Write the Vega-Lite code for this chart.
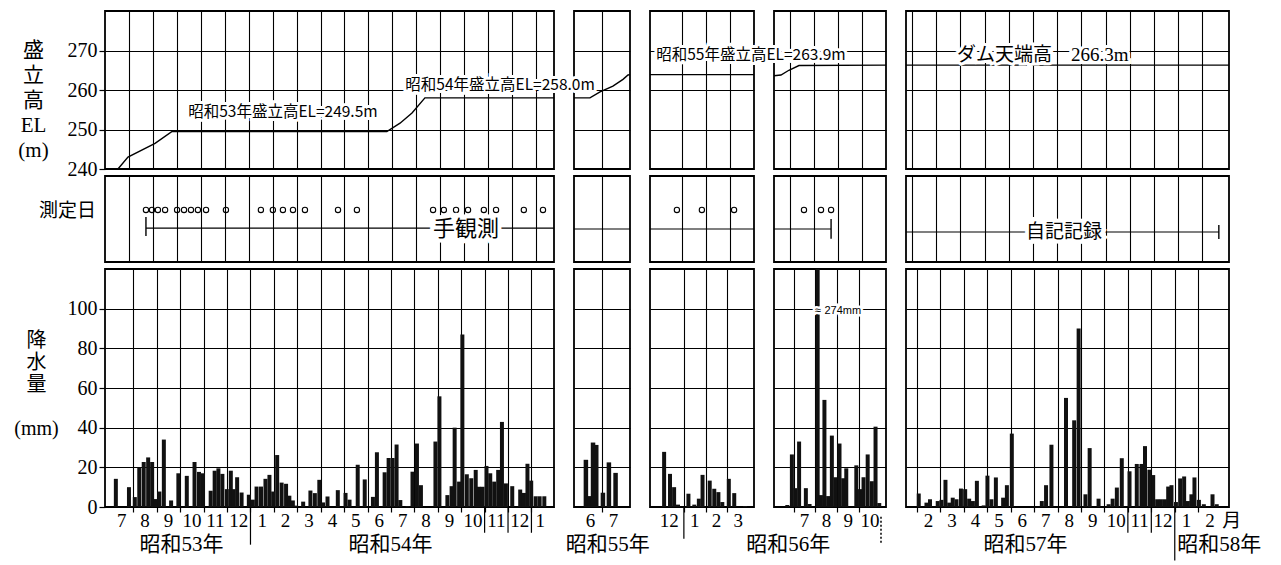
{
"$schema": "https://vega.github.io/schema/vega-lite/v6.json",
"background": "white",
"padding": {"left": 12, "top": 10, "right": 5, "bottom": 5},
"bounds": "flush",
"columns": 5,
"spacing": {"row": 7, "column": 20},
"config": {
  "view": {"stroke": "#000", "strokeWidth": 1.8},
  "axis": {"grid": true, "gridColor": "#000", "gridOpacity": 1, "gridWidth": 1.1, "domain": false, "ticks": false, "labels": false, "tickColor": "#000", "tickWidth": 1.2, "tickOpacity": 1, "labelFont": "Liberation Serif", "labelFontSize": 20, "labelColor": "#000", "labelOverlap": false, "labelBound": false, "labelFlush": false, "titleFont": "Liberation Serif, Noto Sans CJK JP", "titleFontSize": 20, "titleFontWeight": "normal", "titleColor": "#000", "minExtent": 0},
  "text": {"color": "#000"},
  "line": {"color": "#000"},
  "rule": {"color": "#000"}
},
"datasets": {
  "el": [
    {"p":1,"m":0,"y":240},{"p":1,"m":0.54,"y":240},{"p":1,"m":0.96,"y":243},{"p":1,"m":2.09,"y":246.5},{"p":1,"m":2.8,"y":249.5},{"p":1,"m":11.77,"y":249.5},{"p":1,"m":12.32,"y":251.6},{"p":1,"m":12.82,"y":254.2},{"p":1,"m":13.36,"y":258},{"p":1,"m":18.75,"y":258},
    {"p":2,"m":23,"y":258},{"p":2,"m":23.57,"y":258},{"p":2,"m":23.93,"y":259.5},{"p":2,"m":24.39,"y":261},{"p":2,"m":24.75,"y":262.7},{"p":2,"m":24.93,"y":263.8},{"p":2,"m":25,"y":263.9},
    {"p":3,"m":28.67,"y":263.9},{"p":3,"m":33,"y":263.9},
    {"p":4,"m":35.33,"y":263.6},{"p":4,"m":35.62,"y":263.8},{"p":4,"m":35.95,"y":265},{"p":4,"m":36.37,"y":266.2},{"p":4,"m":40,"y":266.3},
    {"p":5,"m":42.75,"y":266.3},{"p":5,"m":56.1,"y":266.3}
  ],
  "notes": [
    {"p":1,"m":7.43,"y":254.4,"t":"昭和53年盛立高EL=249.5m"},
    {"p":2,"m":20.36,"y":261.3,"t":"昭和54年盛立高EL=258.0m"},
    {"p":4,"m":34.37,"y":268.9,"t":"昭和55年盛立高EL=263.9m"},
    {"p":5,"m":48.4,"y":268.9,"t":"ダム天端高　266.3m"}
  ],
  "obs": [
    {"p":1,"m":1.71},{"p":1,"m":1.96},{"p":1,"m":2.21},{"p":1,"m":2.51},{"p":1,"m":3.01},{"p":1,"m":3.3},{"p":1,"m":3.59},{"p":1,"m":3.88},{"p":1,"m":4.22},{"p":1,"m":5.05},
    {"p":1,"m":6.51},{"p":1,"m":7.01},{"p":1,"m":7.43},{"p":1,"m":7.85},{"p":1,"m":8.35},{"p":1,"m":9.73},{"p":1,"m":10.52},
    {"p":1,"m":13.7},{"p":1,"m":14.15},{"p":1,"m":14.66},{"p":1,"m":15.16},{"p":1,"m":15.82},{"p":1,"m":16.33},{"p":1,"m":17.49},{"p":1,"m":18.29},
    {"p":3,"m":29.79},{"p":3,"m":30.83},{"p":3,"m":32.17},
    {"p":4,"m":36.58},{"p":4,"m":37.29},{"p":4,"m":37.71}
  ],
  "hl": [
    {"p":1,"m":1.71,"m2":18.75,"y":3.95},{"p":2,"m":23,"m2":25,"y":3.84},{"p":3,"m":28.67,"m2":33,"y":3.84},{"p":4,"m":35.33,"m2":37.71,"y":3.84},{"p":5,"m":42.75,"m2":55.68,"y":3.49}
  ],
  "vt": [
    {"p":1,"m":1.71,"y":3.02,"y2":5.23},{"p":4,"m":37.71,"y":2.7,"y2":5.0},{"p":5,"m":55.68,"y":2.67,"y2":4.3}
  ],
  "mtext": [
    {"p":1,"m":15.07,"y":3.84,"t":"手観測"},{"p":5,"m":49.28,"y":3.49,"t":"自記記録"}
  ],
  "rain": [
    {"p":1,"m":0.25,"y":14.2},{"p":1,"m":0.81,"y":10},{"p":1,"m":1.06,"y":5},{"p":1,"m":1.25,"y":20},{"p":1,"m":1.44,"y":22.7},{"p":1,"m":1.63,"y":25},{"p":1,"m":1.8,"y":22.7},{"p":1,"m":1.96,"y":4},
    {"p":1,"m":2.11,"y":7.8},{"p":1,"m":2.3,"y":34},{"p":1,"m":2.61,"y":3.3},{"p":1,"m":2.92,"y":17},{"p":1,"m":3.28,"y":15.7},{"p":1,"m":3.61,"y":22.7},{"p":1,"m":3.8,"y":17.7},{"p":1,"m":3.97,"y":17},
    {"p":1,"m":4.3,"y":8.2},{"p":1,"m":4.47,"y":18.3},{"p":1,"m":4.63,"y":19.5},{"p":1,"m":4.8,"y":16.7},{"p":1,"m":4.99,"y":9},{"p":1,"m":5.16,"y":18.3},{"p":1,"m":5.28,"y":9},{"p":1,"m":5.43,"y":15},{"p":1,"m":5.62,"y":7.3},
    {"p":1,"m":5.93,"y":6.2},{"p":1,"m":6.1,"y":3.7},{"p":1,"m":6.26,"y":10.3},{"p":1,"m":6.45,"y":10.3},{"p":1,"m":6.64,"y":14.2},{"p":1,"m":6.81,"y":16.2},{"p":1,"m":6.97,"y":7.8},{"p":1,"m":7.14,"y":26.2},
    {"p":1,"m":7.33,"y":12.3},{"p":1,"m":7.52,"y":11.7},{"p":1,"m":7.66,"y":5.7},{"p":1,"m":7.81,"y":3.3},{"p":1,"m":7.95,"y":0.7},{"p":1,"m":8.25,"y":2.7},{"p":1,"m":8.56,"y":8.3},{"p":1,"m":8.75,"y":7},
    {"p":1,"m":8.94,"y":13.7},{"p":1,"m":9.1,"y":2.3},{"p":1,"m":9.29,"y":5.3},{"p":1,"m":9.73,"y":8.5},{"p":1,"m":10.06,"y":7.1},{"p":1,"m":10.23,"y":3.7},{"p":1,"m":10.58,"y":21.3},{"p":1,"m":10.88,"y":13.9},
    {"p":1,"m":11.23,"y":5.1},{"p":1,"m":11.4,"y":27.6},{"p":1,"m":11.73,"y":17.5},{"p":1,"m":11.9,"y":24.7},{"p":1,"m":12.07,"y":24.7},{"p":1,"m":12.24,"y":31.5},{"p":1,"m":12.4,"y":3.5},
    {"p":1,"m":12.71,"y":0.5},{"p":1,"m":12.92,"y":17.8},{"p":1,"m":13.11,"y":32},{"p":1,"m":13.28,"y":11},{"p":1,"m":13.9,"y":33},{"p":1,"m":14.07,"y":55.8},{"p":1,"m":14.41,"y":6},{"p":1,"m":14.59,"y":10.5},
    {"p":1,"m":14.72,"y":40},{"p":1,"m":14.91,"y":12.8},{"p":1,"m":15.05,"y":87},{"p":1,"m":15.24,"y":16.5},{"p":1,"m":15.43,"y":14.5},{"p":1,"m":15.62,"y":18.7},{"p":1,"m":15.76,"y":10.2},{"p":1,"m":15.91,"y":10.2},
    {"p":1,"m":16.08,"y":20.7},{"p":1,"m":16.24,"y":17},{"p":1,"m":16.41,"y":12.8},{"p":1,"m":16.58,"y":18.7},{"p":1,"m":16.74,"y":42.9},{"p":1,"m":16.91,"y":11.9},{"p":1,"m":17.18,"y":10.5},{"p":1,"m":17.52,"y":8.8},
    {"p":1,"m":17.68,"y":7.1},{"p":1,"m":17.83,"y":21.8},{"p":1,"m":17.99,"y":13.3},{"p":1,"m":18.18,"y":5.4},{"p":1,"m":18.35,"y":5.4},{"p":1,"m":18.55,"y":5.4},
    {"p":2,"m":23.3,"y":23.8},{"p":2,"m":23.46,"y":5.5},{"p":2,"m":23.61,"y":32.5},{"p":2,"m":23.75,"y":31.3},{"p":2,"m":24.04,"y":7.2},{"p":2,"m":24.3,"y":22.5},{"p":2,"m":24.59,"y":17.2},
    {"p":3,"m":29.09,"y":27.8},{"p":3,"m":29.36,"y":16.7},{"p":3,"m":29.55,"y":10},{"p":3,"m":29.73,"y":1.2},{"p":3,"m":30.21,"y":6.7},{"p":3,"m":30.48,"y":1.2},{"p":3,"m":30.69,"y":4.2},{"p":3,"m":30.86,"y":16.2},
    {"p":3,"m":31.19,"y":13.3},{"p":3,"m":31.4,"y":9.2},{"p":3,"m":31.59,"y":7.5},{"p":3,"m":31.77,"y":2.5},{"p":3,"m":32.07,"y":14.2},{"p":3,"m":32.32,"y":7},{"p":3,"m":32.82,"y":0.5},
    {"p":4,"m":35.71,"y":1},{"p":4,"m":35.92,"y":26.5},{"p":4,"m":36.08,"y":9.5},{"p":4,"m":36.25,"y":33},{"p":4,"m":36.56,"y":9.5},{"p":4,"m":36.73,"y":1.5},{"p":4,"m":37.1,"y":274},{"p":4,"m":37.25,"y":6},
    {"p":4,"m":37.41,"y":54},{"p":4,"m":37.58,"y":5.5},{"p":4,"m":37.75,"y":36},{"p":4,"m":37.91,"y":15},{"p":4,"m":38.1,"y":32},{"p":4,"m":38.27,"y":14.5},{"p":4,"m":38.41,"y":19.5},{"p":4,"m":38.87,"y":21},
    {"p":4,"m":39.04,"y":9},{"p":4,"m":39.2,"y":15},{"p":4,"m":39.39,"y":26.5},{"p":4,"m":39.58,"y":13},{"p":4,"m":39.75,"y":40.5},{"p":4,"m":39.92,"y":2},
    {"p":5,"m":43.08,"y":6.8},{"p":5,"m":43.41,"y":2.2},{"p":5,"m":43.56,"y":3.9},{"p":5,"m":43.89,"y":3},{"p":5,"m":44.05,"y":3.6},{"p":5,"m":44.22,"y":13.7},{"p":5,"m":44.38,"y":2.2},{"p":5,"m":44.53,"y":4.7},
    {"p":5,"m":44.69,"y":3.9},{"p":5,"m":44.88,"y":9.3},{"p":5,"m":45.06,"y":9},{"p":5,"m":45.23,"y":4.2},{"p":5,"m":45.39,"y":3},{"p":5,"m":45.56,"y":13.2},{"p":5,"m":45.85,"y":0.8},{"p":5,"m":46.01,"y":15.8},
    {"p":5,"m":46.18,"y":3.9},{"p":5,"m":46.37,"y":14.9},{"p":5,"m":46.68,"y":4.7},{"p":5,"m":46.84,"y":11},{"p":5,"m":47.05,"y":37},{"p":5,"m":48.33,"y":3},{"p":5,"m":48.51,"y":11},{"p":5,"m":48.74,"y":31.4},
    {"p":5,"m":49.36,"y":55},{"p":5,"m":49.71,"y":43.7},{"p":5,"m":49.9,"y":90},{"p":5,"m":50.19,"y":6.4},{"p":5,"m":50.37,"y":29.7},{"p":5,"m":50.75,"y":4.2},{"p":5,"m":51.18,"y":1.4},{"p":5,"m":51.35,"y":4.2},
    {"p":5,"m":51.53,"y":9.8},{"p":5,"m":51.74,"y":24.6},{"p":5,"m":52.07,"y":18},{"p":5,"m":52.38,"y":21.7},{"p":5,"m":52.58,"y":21.7},{"p":5,"m":52.73,"y":30.7},{"p":5,"m":52.92,"y":18.8},{"p":5,"m":53.08,"y":16.1},
    {"p":5,"m":53.25,"y":3.9},{"p":5,"m":53.41,"y":3.9},{"p":5,"m":53.58,"y":3.9},{"p":5,"m":53.72,"y":10.3},{"p":5,"m":53.86,"y":11},{"p":5,"m":54.05,"y":2.5},{"p":5,"m":54.23,"y":14.4},{"p":5,"m":54.4,"y":15.4},
    {"p":5,"m":54.56,"y":3},{"p":5,"m":54.71,"y":6.4},{"p":5,"m":54.84,"y":14.9},{"p":5,"m":55.03,"y":3.6},{"p":5,"m":55.24,"y":1.4},{"p":5,"m":55.61,"y":6.4},{"p":5,"m":55.79,"y":1.4}
  ],
  "months": [
    {"p":1,"m":0.5,"t":"7"},{"p":1,"m":1.5,"t":"8"},{"p":1,"m":2.5,"t":"9"},{"p":1,"m":3.5,"t":"10"},{"p":1,"m":4.5,"t":"11"},{"p":1,"m":5.5,"t":"12"},{"p":1,"m":6.5,"t":"1"},{"p":1,"m":7.5,"t":"2"},{"p":1,"m":8.5,"t":"3"},{"p":1,"m":9.5,"t":"4"},
    {"p":1,"m":10.5,"t":"5"},{"p":1,"m":11.5,"t":"6"},{"p":1,"m":12.5,"t":"7"},{"p":1,"m":13.5,"t":"8"},{"p":1,"m":14.5,"t":"9"},{"p":1,"m":15.5,"t":"10"},{"p":1,"m":16.5,"t":"11"},{"p":1,"m":17.5,"t":"12"},{"p":1,"m":18.375,"t":"1"},
    {"p":2,"m":23.5,"t":"6"},{"p":2,"m":24.5,"t":"7"},
    {"p":3,"m":29.33,"t":"12"},{"p":3,"m":30.5,"t":"1"},{"p":3,"m":31.5,"t":"2"},{"p":3,"m":32.5,"t":"3"},
    {"p":4,"m":36.5,"t":"7"},{"p":4,"m":37.5,"t":"8"},{"p":4,"m":38.5,"t":"9"},{"p":4,"m":39.5,"t":"10"},
    {"p":5,"m":43.5,"t":"2"},{"p":5,"m":44.5,"t":"3"},{"p":5,"m":45.5,"t":"4"},{"p":5,"m":46.5,"t":"5"},{"p":5,"m":47.5,"t":"6"},{"p":5,"m":48.5,"t":"7"},{"p":5,"m":49.5,"t":"8"},{"p":5,"m":50.5,"t":"9"},
    {"p":5,"m":51.5,"t":"10"},{"p":5,"m":52.5,"t":"11"},{"p":5,"m":53.5,"t":"12"},{"p":5,"m":54.5,"t":"1"},{"p":5,"m":55.5,"t":"2"},{"p":5,"m":56.43,"t":"月"}
  ],
  "years": [
    {"p":1,"m":3.05,"t":"昭和53年"},{"p":1,"m":11.98,"t":"昭和54年"},{"p":2,"m":24.25,"t":"昭和55年"},{"p":4,"m":35.75,"t":"昭和56年"},{"p":5,"m":47.63,"t":"昭和57年"},{"p":5,"m":55.9,"t":"昭和58年"}
  ],
  "seps": [
    {"p":1,"m":6,"y2":-19},{"p":1,"m":16,"y2":-13},{"p":1,"m":17,"y2":-13},{"p":1,"m":18,"y2":-13},
    {"p":3,"m":30,"y2":-16},
    {"p":5,"m":52,"y2":-13},{"p":5,"m":53,"y2":-13},{"p":5,"m":54,"y2":-27}
  ],
  "dots": [{"p":4,"m":40,"y2":-18}],
  "ann": [{"p":4,"m":38.25,"y":99,"t":"274mm"},{"p":4,"m":37.1,"y":99,"t":"≈"}]
},
"concat": [
   {
    "width": 449, "height": 158,
    "encoding": {"x": {"field": "m", "type": "quantitative", "scale": {"domain": [0, 18.75], "nice": false, "zero": false}, "axis": {"values": [1,2,3,4,5,6,7,8,9,10,11,12,13,14,15,16,17,18], "title": null}}},
    "layer": [
      {"data": {"name": "el"}, "transform": [{"filter": "datum.p == 1"}], "mark": {"type": "line", "color": "#000", "strokeWidth": 1.4},
       "encoding": {"y": {"field": "y", "type": "quantitative", "scale": {"domain": [240, 280], "nice": false, "zero": false}, "axis": {"values": [240,250,260,270], "labels": true, "ticks": true, "tickSize": 6, "labelPadding": 2, "title": ["盛","立","高","EL","(m)"], "titleAngle": 0, "titleAlign": "center", "titleBaseline": "middle", "titleX": -72, "titleY": 39, "titleLineHeight": 25, "titleFontSize": 21}}}},
      {"data": {"name": "notes"}, "transform": [{"filter": "datum.p == 1"}], "mark": {"type": "text", "font": "Noto Sans CJK JP", "fontSize": 15.5, "fill": "#fff", "stroke": "#fff", "strokeWidth": 6}, "encoding": {"y": {"field": "y", "type": "quantitative"}, "text": {"field": "t"}}},
      {"data": {"name": "notes"}, "transform": [{"filter": "datum.p == 1"}], "mark": {"type": "text", "font": "Noto Sans CJK JP", "fontSize": 15.5, "fill": "#000"}, "encoding": {"y": {"field": "y", "type": "quantitative"}, "text": {"field": "t"}}}
    ]
   },
   {
    "width": 56, "height": 158,
    "encoding": {"x": {"field": "m", "type": "quantitative", "scale": {"domain": [23, 25], "nice": false, "zero": false}, "axis": {"values": [24], "title": null}}},
    "layer": [
      {"data": {"name": "el"}, "transform": [{"filter": "datum.p == 2"}], "mark": {"type": "line", "color": "#000", "strokeWidth": 1.4},
       "encoding": {"y": {"field": "y", "type": "quantitative", "scale": {"domain": [240, 280], "nice": false, "zero": false}, "axis": {"values": [250,260,270], "title": null}}}},
      {"data": {"name": "notes"}, "transform": [{"filter": "datum.p == 2"}], "mark": {"type": "text", "font": "Noto Sans CJK JP", "fontSize": 15.5, "fill": "#fff", "stroke": "#fff", "strokeWidth": 6}, "encoding": {"y": {"field": "y", "type": "quantitative"}, "text": {"field": "t"}}},
      {"data": {"name": "notes"}, "transform": [{"filter": "datum.p == 2"}], "mark": {"type": "text", "font": "Noto Sans CJK JP", "fontSize": 15.5, "fill": "#000"}, "encoding": {"y": {"field": "y", "type": "quantitative"}, "text": {"field": "t"}}}
    ]
   },
   {
    "width": 104, "height": 158,
    "encoding": {"x": {"field": "m", "type": "quantitative", "scale": {"domain": [28.67, 33], "nice": false, "zero": false}, "axis": {"values": [30,31,32], "title": null}}},
    "layer": [
      {"data": {"name": "el"}, "transform": [{"filter": "datum.p == 3"}], "mark": {"type": "line", "color": "#000", "strokeWidth": 1.4},
       "encoding": {"y": {"field": "y", "type": "quantitative", "scale": {"domain": [240, 280], "nice": false, "zero": false}, "axis": {"values": [250,260,270], "title": null}}}}
    ]
   },
   {
    "width": 112, "height": 158,
    "encoding": {"x": {"field": "m", "type": "quantitative", "scale": {"domain": [35.33, 40], "nice": false, "zero": false}, "axis": {"values": [36,37,38,39], "title": null}}},
    "layer": [
      {"data": {"name": "el"}, "transform": [{"filter": "datum.p == 4"}], "mark": {"type": "line", "color": "#000", "strokeWidth": 1.4},
       "encoding": {"y": {"field": "y", "type": "quantitative", "scale": {"domain": [240, 280], "nice": false, "zero": false}, "axis": {"values": [250,260,270], "title": null}}}},
      {"data": {"name": "notes"}, "transform": [{"filter": "datum.p == 4"}], "mark": {"type": "text", "font": "Noto Sans CJK JP", "fontSize": 15.5, "fill": "#fff", "stroke": "#fff", "strokeWidth": 6}, "encoding": {"y": {"field": "y", "type": "quantitative"}, "text": {"field": "t"}}},
      {"data": {"name": "notes"}, "transform": [{"filter": "datum.p == 4"}], "mark": {"type": "text", "font": "Noto Sans CJK JP", "fontSize": 15.5, "fill": "#000"}, "encoding": {"y": {"field": "y", "type": "quantitative"}, "text": {"field": "t"}}}
    ]
   },
   {
    "width": 323, "height": 158,
    "encoding": {"x": {"field": "m", "type": "quantitative", "scale": {"domain": [42.75, 56.1], "nice": false, "zero": false}, "axis": {"values": [43,44,45,46,47,48,49,50,51,52,53,54,55], "title": null}}},
    "layer": [
      {"data": {"name": "el"}, "transform": [{"filter": "datum.p == 5"}], "mark": {"type": "line", "color": "#000", "strokeWidth": 1.4},
       "encoding": {"y": {"field": "y", "type": "quantitative", "scale": {"domain": [240, 280], "nice": false, "zero": false}, "axis": {"values": [250,260,270], "title": null}}}},
      {"data": {"name": "notes"}, "transform": [{"filter": "datum.p == 5"}], "mark": {"type": "text", "font": "Liberation Serif, Noto Sans CJK JP", "fontSize": 19, "fill": "#fff", "stroke": "#fff", "strokeWidth": 6}, "encoding": {"y": {"field": "y", "type": "quantitative"}, "text": {"field": "t"}}},
      {"data": {"name": "notes"}, "transform": [{"filter": "datum.p == 5"}], "mark": {"type": "text", "font": "Liberation Serif, Noto Sans CJK JP", "fontSize": 19, "fill": "#000"}, "encoding": {"y": {"field": "y", "type": "quantitative"}, "text": {"field": "t"}}}
    ]
   },
   {
    "width": 449, "height": 86,
    "encoding": {"x": {"field": "m", "type": "quantitative", "scale": {"domain": [0, 18.75], "nice": false, "zero": false}, "axis": {"values": [1,2,3,4,5,6,7,8,9,10,11,12,13,14,15,16,17,18], "title": null}}},
    "layer": [
      {"data": {"name": "hl"}, "transform": [{"filter": "datum.p == 1"}], "mark": {"type": "rule", "strokeWidth": 1.2},
       "encoding": {"x2": {"field": "m2"}, "y": {"field": "y", "type": "quantitative", "scale": {"domain": [0, 10], "nice": false, "zero": false}, "axis": {"grid": false, "title": "測定日", "titleAngle": 0, "titleAlign": "center", "titleBaseline": "middle", "titleX": -38, "titleY": 34, "titleFont": "Noto Sans CJK JP", "titleFontSize": 19}}}},
      {"data": {"name": "obs"}, "transform": [{"filter": "datum.p == 1"}], "mark": {"type": "point", "shape": "circle", "filled": false, "size": 28, "stroke": "#000", "strokeWidth": 1.1, "opacity": 1}, "encoding": {"y": {"datum": 6.05, "type": "quantitative"}}},
      {"data": {"name": "vt"}, "transform": [{"filter": "datum.p == 1"}], "mark": {"type": "rule", "strokeWidth": 1.4}, "encoding": {"y": {"field": "y", "type": "quantitative"}, "y2": {"field": "y2"}}},
      {"data": {"name": "mtext"}, "transform": [{"filter": "datum.p == 1"}], "mark": {"type": "text", "font": "Noto Sans CJK JP", "fontSize": 22, "fill": "#fff", "stroke": "#fff", "strokeWidth": 8}, "encoding": {"y": {"field": "y", "type": "quantitative"}, "text": {"field": "t"}}},
      {"data": {"name": "mtext"}, "transform": [{"filter": "datum.p == 1"}], "mark": {"type": "text", "font": "Noto Sans CJK JP", "fontSize": 22, "fill": "#000"}, "encoding": {"y": {"field": "y", "type": "quantitative"}, "text": {"field": "t"}}}
    ]
   },
   {
    "width": 56, "height": 86,
    "encoding": {"x": {"field": "m", "type": "quantitative", "scale": {"domain": [23, 25], "nice": false, "zero": false}, "axis": {"values": [24], "title": null}}},
    "layer": [
      {"data": {"name": "hl"}, "transform": [{"filter": "datum.p == 2"}], "mark": {"type": "rule", "strokeWidth": 1.2},
       "encoding": {"x2": {"field": "m2"}, "y": {"field": "y", "type": "quantitative", "scale": {"domain": [0, 10], "nice": false, "zero": false}, "axis": null}}}
    ]
   },
   {
    "width": 104, "height": 86,
    "encoding": {"x": {"field": "m", "type": "quantitative", "scale": {"domain": [28.67, 33], "nice": false, "zero": false}, "axis": {"values": [30,31,32], "title": null}}},
    "layer": [
      {"data": {"name": "hl"}, "transform": [{"filter": "datum.p == 3"}], "mark": {"type": "rule", "strokeWidth": 1.2},
       "encoding": {"x2": {"field": "m2"}, "y": {"field": "y", "type": "quantitative", "scale": {"domain": [0, 10], "nice": false, "zero": false}, "axis": null}}},
      {"data": {"name": "obs"}, "transform": [{"filter": "datum.p == 3"}], "mark": {"type": "point", "shape": "circle", "filled": false, "size": 28, "stroke": "#000", "strokeWidth": 1.1, "opacity": 1}, "encoding": {"y": {"datum": 6.05, "type": "quantitative", "axis": null}}}
    ]
   },
   {
    "width": 112, "height": 86,
    "encoding": {"x": {"field": "m", "type": "quantitative", "scale": {"domain": [35.33, 40], "nice": false, "zero": false}, "axis": {"values": [36,37,38,39], "title": null}}},
    "layer": [
      {"data": {"name": "hl"}, "transform": [{"filter": "datum.p == 4"}], "mark": {"type": "rule", "strokeWidth": 1.2},
       "encoding": {"x2": {"field": "m2"}, "y": {"field": "y", "type": "quantitative", "scale": {"domain": [0, 10], "nice": false, "zero": false}, "axis": null}}},
      {"data": {"name": "obs"}, "transform": [{"filter": "datum.p == 4"}], "mark": {"type": "point", "shape": "circle", "filled": false, "size": 28, "stroke": "#000", "strokeWidth": 1.1, "opacity": 1}, "encoding": {"y": {"datum": 6.05, "type": "quantitative", "axis": null}}},
      {"data": {"name": "vt"}, "transform": [{"filter": "datum.p == 4"}], "mark": {"type": "rule", "strokeWidth": 1.4}, "encoding": {"y": {"field": "y", "type": "quantitative", "axis": null}, "y2": {"field": "y2"}}}
    ]
   },
   {
    "width": 323, "height": 86,
    "encoding": {"x": {"field": "m", "type": "quantitative", "scale": {"domain": [42.75, 56.1], "nice": false, "zero": false}, "axis": {"values": [43,44,45,46,47,48,49,50,51,52,53,54,55], "title": null}}},
    "layer": [
      {"data": {"name": "hl"}, "transform": [{"filter": "datum.p == 5"}], "mark": {"type": "rule", "strokeWidth": 1.2},
       "encoding": {"x2": {"field": "m2"}, "y": {"field": "y", "type": "quantitative", "scale": {"domain": [0, 10], "nice": false, "zero": false}, "axis": null}}},
      {"data": {"name": "vt"}, "transform": [{"filter": "datum.p == 5"}], "mark": {"type": "rule", "strokeWidth": 1.4}, "encoding": {"y": {"field": "y", "type": "quantitative", "axis": null}, "y2": {"field": "y2"}}},
      {"data": {"name": "mtext"}, "transform": [{"filter": "datum.p == 5"}], "mark": {"type": "text", "font": "Noto Sans CJK JP", "fontSize": 19, "fill": "#fff", "stroke": "#fff", "strokeWidth": 8}, "encoding": {"y": {"field": "y", "type": "quantitative", "axis": null}, "text": {"field": "t"}}},
      {"data": {"name": "mtext"}, "transform": [{"filter": "datum.p == 5"}], "mark": {"type": "text", "font": "Noto Sans CJK JP", "fontSize": 19, "fill": "#000"}, "encoding": {"y": {"field": "y", "type": "quantitative", "axis": null}, "text": {"field": "t"}}}
    ]
   },
   {
    "width": 449, "height": 238,
    "encoding": {"x": {"field": "m", "type": "quantitative", "scale": {"domain": [0, 18.75], "nice": false, "zero": false}, "axis": {"values": [1,2,3,4,5,6,7,8,9,10,11,12,13,14,15,16,17,18], "ticks": true, "tickSize": 5, "title": null}}},
    "layer": [
      {"data": {"name": "rain"}, "transform": [{"filter": "datum.p == 1"}], "mark": {"type": "bar", "size": 4, "color": "#111", "clip": true},
       "encoding": {"y": {"field": "y", "type": "quantitative", "scale": {"domain": [0, 120], "nice": false, "zero": false}, "axis": {"values": [0,20,40,60,80,100], "labels": true, "ticks": true, "tickSize": 6, "labelPadding": 2, "title": ["降","水","量","\u200b","(mm)"], "titleAngle": 0, "titleAlign": "center", "titleBaseline": "middle", "titleX": -69, "titleY": 71, "titleLineHeight": 22}}}},
      {"data": {"name": "months"}, "transform": [{"filter": "datum.p == 1"}], "mark": {"type": "text", "font": "Liberation Serif, Noto Sans CJK JP", "fontSize": 19}, "encoding": {"y": {"datum": -7, "type": "quantitative"}, "text": {"field": "t"}}},
      {"data": {"name": "years"}, "transform": [{"filter": "datum.p == 1"}], "mark": {"type": "text", "font": "Liberation Serif, Noto Sans CJK JP", "fontSize": 21}, "encoding": {"y": {"datum": -19, "type": "quantitative"}, "text": {"field": "t"}}},
      {"data": {"name": "seps"}, "transform": [{"filter": "datum.p == 1"}], "mark": {"type": "rule", "strokeWidth": 1.2}, "encoding": {"y": {"field": "y2", "type": "quantitative"}, "y2": {"datum": 0}}}
    ]
   },
   {
    "width": 56, "height": 238,
    "encoding": {"x": {"field": "m", "type": "quantitative", "scale": {"domain": [23, 25], "nice": false, "zero": false}, "axis": {"values": [24], "ticks": true, "tickSize": 5, "title": null}}},
    "layer": [
      {"data": {"name": "rain"}, "transform": [{"filter": "datum.p == 2"}], "mark": {"type": "bar", "size": 4.5, "color": "#111", "clip": true},
       "encoding": {"y": {"field": "y", "type": "quantitative", "scale": {"domain": [0, 120], "nice": false, "zero": false}, "axis": {"values": [20,40,60,80,100], "title": null}}}},
      {"data": {"name": "months"}, "transform": [{"filter": "datum.p == 2"}], "mark": {"type": "text", "font": "Liberation Serif, Noto Sans CJK JP", "fontSize": 19}, "encoding": {"y": {"datum": -7, "type": "quantitative"}, "text": {"field": "t"}}},
      {"data": {"name": "years"}, "transform": [{"filter": "datum.p == 2"}], "mark": {"type": "text", "font": "Liberation Serif, Noto Sans CJK JP", "fontSize": 21}, "encoding": {"y": {"datum": -19, "type": "quantitative"}, "text": {"field": "t"}}}
    ]
   },
   {
    "width": 104, "height": 238,
    "encoding": {"x": {"field": "m", "type": "quantitative", "scale": {"domain": [28.67, 33], "nice": false, "zero": false}, "axis": {"values": [30,31,32], "ticks": true, "tickSize": 5, "title": null}}},
    "layer": [
      {"data": {"name": "rain"}, "transform": [{"filter": "datum.p == 3"}], "mark": {"type": "bar", "size": 4, "color": "#111", "clip": true},
       "encoding": {"y": {"field": "y", "type": "quantitative", "scale": {"domain": [0, 120], "nice": false, "zero": false}, "axis": {"values": [20,40,60,80,100], "title": null}}}},
      {"data": {"name": "months"}, "transform": [{"filter": "datum.p == 3"}], "mark": {"type": "text", "font": "Liberation Serif, Noto Sans CJK JP", "fontSize": 19}, "encoding": {"y": {"datum": -7, "type": "quantitative"}, "text": {"field": "t"}}},
      {"data": {"name": "seps"}, "transform": [{"filter": "datum.p == 3"}], "mark": {"type": "rule", "strokeWidth": 1.2}, "encoding": {"y": {"field": "y2", "type": "quantitative"}, "y2": {"datum": 0}}}
    ]
   },
   {
    "width": 112, "height": 238,
    "encoding": {"x": {"field": "m", "type": "quantitative", "scale": {"domain": [35.33, 40], "nice": false, "zero": false}, "axis": {"values": [36,37,38,39], "ticks": true, "tickSize": 5, "title": null}}},
    "layer": [
      {"data": {"name": "rain"}, "transform": [{"filter": "datum.p == 4"}], "mark": {"type": "bar", "size": 4, "color": "#111", "clip": true},
       "encoding": {"y": {"field": "y", "type": "quantitative", "scale": {"domain": [0, 120], "nice": false, "zero": false}, "axis": {"values": [20,40,60,80,100], "title": null}}}},
      {"data": {"name": "months"}, "transform": [{"filter": "datum.p == 4"}], "mark": {"type": "text", "font": "Liberation Serif, Noto Sans CJK JP", "fontSize": 19}, "encoding": {"y": {"datum": -7, "type": "quantitative"}, "text": {"field": "t"}}},
      {"data": {"name": "years"}, "transform": [{"filter": "datum.p == 4"}], "mark": {"type": "text", "font": "Liberation Serif, Noto Sans CJK JP", "fontSize": 21}, "encoding": {"y": {"datum": -19, "type": "quantitative"}, "text": {"field": "t"}}},
      {"data": {"name": "dots"}, "transform": [{"filter": "datum.p == 4"}], "mark": {"type": "rule", "strokeWidth": 1.5, "strokeDash": [2, 2]}, "encoding": {"y": {"field": "y2", "type": "quantitative"}, "y2": {"datum": -4}}},
      {"data": {"name": "ann"}, "transform": [{"filter": "datum.p == 4"}], "mark": {"type": "text", "font": "Liberation Sans Narrow, Liberation Sans", "fontSize": 11, "fill": "#fff", "stroke": "#fff", "strokeWidth": 5}, "encoding": {"y": {"field": "y", "type": "quantitative"}, "text": {"field": "t"}}},
      {"data": {"name": "ann"}, "transform": [{"filter": "datum.p == 4"}], "mark": {"type": "text", "font": "Liberation Sans Narrow, Liberation Sans", "fontSize": 11, "fill": "#000"}, "encoding": {"y": {"field": "y", "type": "quantitative"}, "text": {"field": "t"}}}
    ]
   },
   {
    "width": 323, "height": 238,
    "encoding": {"x": {"field": "m", "type": "quantitative", "scale": {"domain": [42.75, 56.1], "nice": false, "zero": false}, "axis": {"values": [43,44,45,46,47,48,49,50,51,52,53,54,55], "ticks": true, "tickSize": 5, "title": null}}},
    "layer": [
      {"data": {"name": "rain"}, "transform": [{"filter": "datum.p == 5"}], "mark": {"type": "bar", "size": 4, "color": "#111", "clip": true},
       "encoding": {"y": {"field": "y", "type": "quantitative", "scale": {"domain": [0, 120], "nice": false, "zero": false}, "axis": {"values": [20,40,60,80,100], "title": null}}}},
      {"data": {"name": "months"}, "transform": [{"filter": "datum.p == 5"}], "mark": {"type": "text", "font": "Liberation Serif, Noto Sans CJK JP", "fontSize": 19}, "encoding": {"y": {"datum": -7, "type": "quantitative"}, "text": {"field": "t"}}},
      {"data": {"name": "years"}, "transform": [{"filter": "datum.p == 5"}], "mark": {"type": "text", "font": "Liberation Serif, Noto Sans CJK JP", "fontSize": 21}, "encoding": {"y": {"datum": -19, "type": "quantitative"}, "text": {"field": "t"}}},
      {"data": {"name": "seps"}, "transform": [{"filter": "datum.p == 5"}], "mark": {"type": "rule", "strokeWidth": 1.2}, "encoding": {"y": {"field": "y2", "type": "quantitative"}, "y2": {"datum": 0}}}
    ]
   }
]
}
